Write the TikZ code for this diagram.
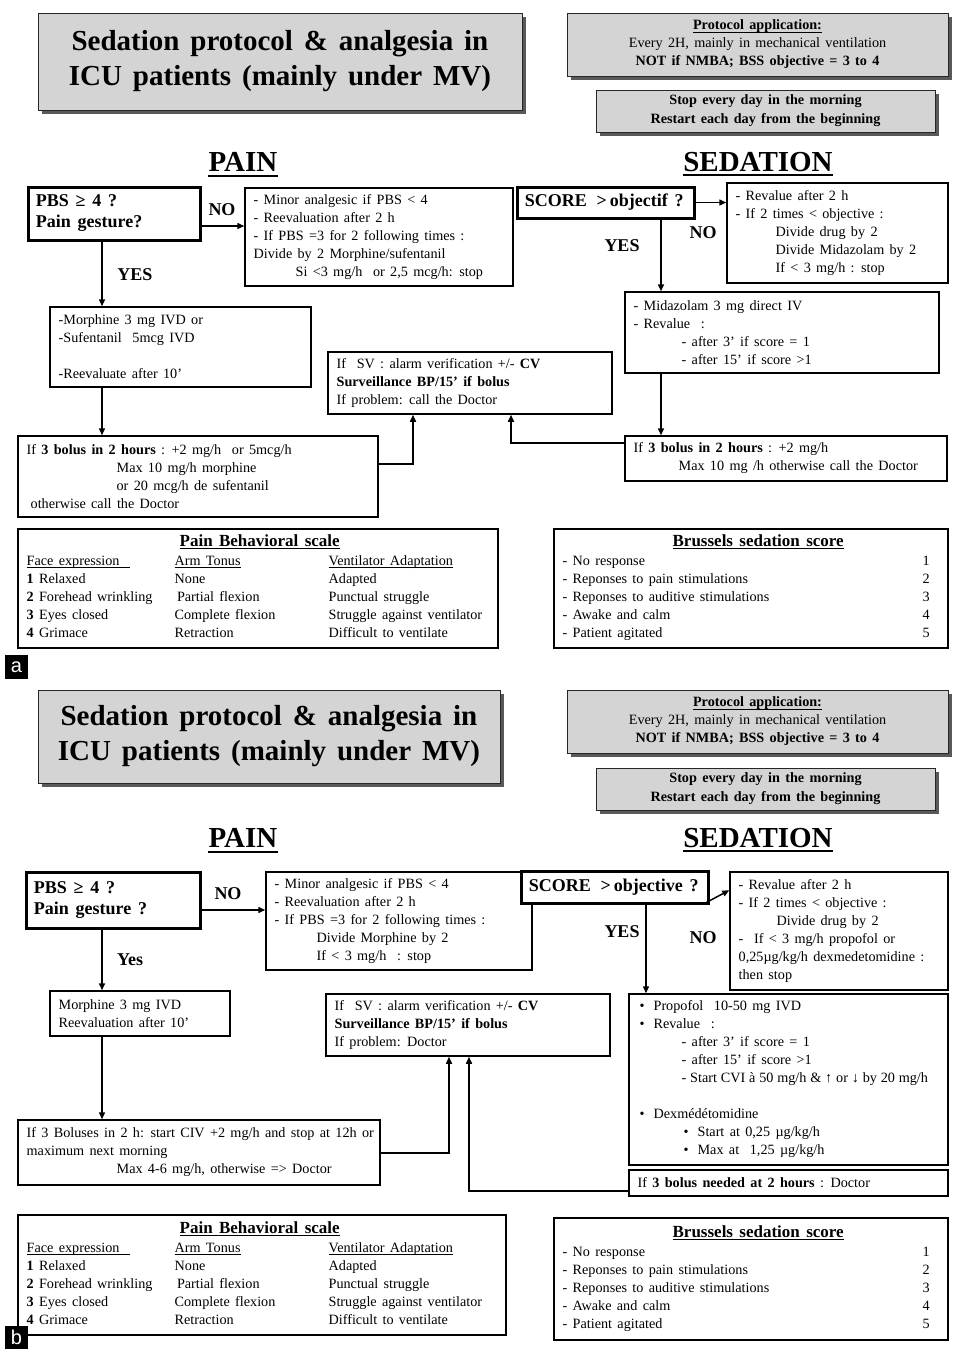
\documentclass[tikz,border=0pt]{standalone}
\usepackage{fontspec}
\setmainfont{Liberation Serif}[WordSpace=1.5]
\newfontfamily\lblfont{Liberation Sans}
\usetikzlibrary{arrows.meta,shadows}
\newcommand\myfs{\fontsize{7.1}{9}\selectfont}
\newcommand\myul[1]{\leavevmode\setbox0\hbox{#1}\rlap{\rule[-1.3pt]{\wd0}{0.45pt}}\box0}
\newcommand\mybox[8]{%
  \node[#1,minimum width=#6,minimum height=#7] (#3) at (#4,#5) {};
  \node[tx,#2] (#3t) at ([xshift=4.5pt]#3.west) {#8};
}
\tikzset{
  bx/.style={draw, line width=0.75pt, fill=white, inner sep=0pt},
  bxthick/.style={draw, line width=1.5pt, fill=white, inner sep=0pt},
  tx/.style={inner sep=0pt, align=left, font=\myfs, anchor=west},
  tt/.style={inner sep=0pt, font=\myfs, anchor=west},
  bold9/.style={font=\fontsize{9}{10.5}\selectfont\bfseries},
  gbox/.style={draw=black!85, line width=0.5pt, fill=black!17, inner sep=0pt, align=center,
     drop shadow={shadow xshift=2.2pt, shadow yshift=-2.2pt, fill=black!65, opacity=1}},
  lbl/.style={font=\fontsize{9}{10}\selectfont\bfseries, inner sep=0pt},
  head/.style={font=\fontsize{14.5}{16}\selectfont\bfseries, inner sep=0pt},
  arr/.style={line width=0.75pt, -{Triangle[length=3.5pt,width=3pt]}},
  ulline/.style={line width=1pt},
  tag/.style={fill=black, text=white, font=\lblfont\fontsize{10}{10}\selectfont, minimum width=11.5pt, minimum height=12pt, inner sep=0pt},
}
\newcommand\painscale[1]{%
\begin{tabular}{@{}p{74pt}@{}p{77pt}@{}l@{}}
\multicolumn{3}{@{}l@{}}{\hspace*{#1}\fontsize{8.5}{9}\selectfont\bfseries\myul{Pain Behavioral scale}}\\[0.5pt]
\myul{Face expression\ \ } & \myul{Arm Tonus} & \myul{Ventilator Adaptation}\\
\textbf{1} Relaxed & None & Adapted\\
\textbf{2} Forehead wrinkling & \,Partial flexion & Punctual struggle\\
\textbf{3} Eyes closed & Complete flexion & Struggle against ventilator\\
\textbf{4} Grimace & Retraction & Difficult to ventilate
\end{tabular}}
\newcommand\bssscale{%
\begin{tabular}{@{}p{180pt}@{}l@{}}
\multicolumn{2}{@{}l@{}}{\hspace*{55pt}\fontsize{8.5}{9}\selectfont\bfseries\myul{Brussels sedation score}}\\[0.5pt]
- No response & 1\\
- Reponses to pain stimulations & 2\\
- Reponses to auditive stimulations & 3\\
- Awake and calm & 4\\
- Patient agitated & 5
\end{tabular}}
\begin{document}
\begin{tikzpicture}[x=0.5pt,y=-0.5pt]
\useasboundingbox (0,0) rectangle (953,1349);
\fill[white] (0,0) rectangle (953,1349);

% ================= PANEL A =================
\node[gbox, minimum width=242pt, minimum height=48.5pt, font=\fontsize{14.5}{17.5}\selectfont\bfseries] (titleA) at (280,61.5) {Sedation protocol \& analgesia in\\ICU patients (mainly under MV)};
\node[gbox, minimum width=190.5pt, minimum height=31.5pt, font=\myfs] (protoA) at (757.5,44.5) {\textbf{\myul{Protocol application:}}\\Every 2H, mainly in mechanical ventilation\\\textbf{NOT if NMBA; BSS objective = 3 to 4}};
\node[gbox, minimum width=169.5pt, minimum height=21pt, font=\fontsize{7.1}{9.5}\selectfont\bfseries] (stopA) at (765.5,111) {Stop every day in the morning\\Restart each day from the beginning};

\node[head] (painA) at (243,162) {PAIN};
\draw[ulline] ([yshift=-2pt]painA.base west) -- ([yshift=-2pt]painA.base east);
\node[head] (sedA) at (758,162) {SEDATION};
\draw[ulline] ([yshift=-2pt]sedA.base west) -- ([yshift=-2pt]sedA.base east);

\mybox{bxthick}{bold9}{pbsA}{114}{213.5}{86pt}{26.5pt}{PBS ≥ 4 ?\\Pain gesture?}
\node[lbl] (noA1) at (222,210) {NO};
\mybox{bx}{}{minorA}{379}{237}{134pt}{49pt}{- Minor analgesic if PBS < 4\\- Reevaluation after 2 h\\- If PBS =3 for 2 following times :\\Divide by 2 Morphine/sufentanil\\\hspace*{21pt}Si <3 mg/h \ or 2,5 mcg/h: stop}
\node[lbl] (yesA1) at (135,275) {YES};
\mybox{bx}{}{morphA}{180.5}{347}{130.5pt}{40pt}{-Morphine 3 mg IVD or\\-Sufentanil \ 5mcg IVD\\[9pt]-Reevaluate after 10’}
\mybox{bx}{}{bolusPA}{198}{476.5}{180pt}{40.5pt}{If \textbf{3 bolus in 2 hours} : +2 mg/h \ or 5mcg/h\\\hspace*{45pt}Max 10 mg/h morphine\\\hspace*{45pt}or 20 mcg/h de sufentanil\\\hspace*{2pt}otherwise call the Doctor}
\mybox{bx}{}{survA}{470}{383}{142pt}{31pt}{If \ SV : alarm verification +/- \textbf{CV}\\\textbf{Surveillance BP/15’ if bolus}\\If problem: call the Doctor}

\mybox{bxthick}{bold9}{scoreA}{605.5}{202.5}{88.5pt}{15.5pt}{SCORE \,>\,objectif ?}
\mybox{bx}{}{revalA}{837.5}{233}{110.5pt}{50pt}{- Revalue after 2 h\\- If 2 times < objective :\\\hspace*{20pt}Divide drug by 2\\\hspace*{20pt}Divide Midazolam by 2\\\hspace*{20pt}If < 3 mg/h : stop}
\node[lbl] (noA2) at (703,233) {NO};
\node[lbl] (yesA2) at (622,246) {YES};
\mybox{bx}{}{midaA}{782}{332.5}{157pt}{40.5pt}{- Midazolam 3 mg direct IV\\- Revalue \ :\\\hspace*{24pt}- after 3’ if score = 1\\\hspace*{24pt}- after 15’ if score >1}
\mybox{bx}{}{bolusSA}{786}{458.5}{161pt}{22.5pt}{If \textbf{3 bolus in 2 hours} : +2 mg/h\\\hspace*{22.5pt}Max 10 mg /h otherwise call the Doctor}

\mybox{bx}{tt}{scalePA}{258}{588.5}{240pt}{59.5pt}{\painscale{76.5pt}}
\mybox{bx}{tt}{bssA}{751}{588.5}{197pt}{59.5pt}{\bssscale}
\node[tag] (tagA) at (16.5,667) {a};

% connectors A
\coordinate (pa) at ([yshift=-6.25pt]pbsA.east);
\draw[arr] (pa) -- (pa -| minorA.west);
\coordinate (xa) at (102,0);
\draw[arr] (xa |- pbsA.south) -- (xa |- morphA.north);
\draw[arr] (xa |- morphA.south) -- (xa |- bolusPA.north);
\coordinate (ja) at (413,464);
\draw[arr] (ja -| bolusPA.east) -| (ja |- survA.south);
\coordinate (jb) at (511,443);
\draw[arr] (jb -| bolusSA.west) -| (jb |- survA.south);
\draw[arr] (scoreA.east) -- (scoreA.east -| revalA.west);
\coordinate (xs) at (661,0);
\draw[arr] (xs |- scoreA.south) -- (xs |- midaA.north);
\draw[arr] (xs |- midaA.south) -- (xs |- bolusSA.north);

% ================= PANEL B =================
\node[gbox, minimum width=231pt, minimum height=46.5pt, font=\fontsize{14.5}{17.5}\selectfont\bfseries] (titleB) at (269,736.5) {Sedation protocol \& analgesia in\\ICU patients (mainly under MV)};
\node[gbox, minimum width=190.5pt, minimum height=31.5pt, font=\myfs] (protoB) at (757.5,721.5) {\textbf{\myul{Protocol application:}}\\Every 2H, mainly in mechanical ventilation\\\textbf{NOT if NMBA; BSS objective = 3 to 4}};
\node[gbox, minimum width=169.5pt, minimum height=21pt, font=\fontsize{7.1}{9.5}\selectfont\bfseries] (stopB) at (765.5,789) {Stop every day in the morning\\Restart each day from the beginning};

\node[head] (painB) at (243,838) {PAIN};
\draw[ulline] ([yshift=-2pt]painB.base west) -- ([yshift=-2pt]painB.base east);
\node[head] (sedB) at (758,838) {SEDATION};
\draw[ulline] ([yshift=-2pt]sedB.base west) -- ([yshift=-2pt]sedB.base east);

\mybox{bxthick}{bold9}{pbsB}{113}{900}{87pt}{28pt}{PBS ≥ 4 ?\\Pain gesture ?}
\node[lbl] (noB1) at (228,894) {NO};
\mybox{bx}{}{minorB}{399}{921}{133pt}{49pt}{- Minor analgesic if PBS < 4\\- Reevaluation after 2 h\\- If PBS =3 for 2 following times :\\\hspace*{21pt}Divide Morphine by 2\\\hspace*{21pt}If < 3 mg/h \ : stop}
\node[lbl] (yesB1) at (130,960) {Yes};
\mybox{bx}{}{morphB}{140}{1013.5}{90pt}{22.5pt}{Morphine 3 mg IVD\\Reevaluation after 10’}
\mybox{bx}{}{bolusPB}{199}{1152.5}{181pt}{32.5pt}{If 3 Boluses in 2 h: start CIV +2 mg/h and stop at 12h or\\maximum next morning\\\hspace*{45pt}Max 4-6 mg/h, otherwise => Doctor}
\mybox{bx}{}{survB}{468}{1025}{142pt}{31pt}{If \ SV : alarm verification +/- \textbf{CV}\\\textbf{Surveillance BP/15’ if bolus}\\If problem: Doctor}

\mybox{bxthick}{bold9}{scoreB}{614.5}{887}{93.5pt}{16pt}{SCORE \,>\,objective ?}
\mybox{bx}{}{revalB}{839}{931}{109pt}{59pt}{- Revalue after 2 h\\- If 2 times < objective :\\\hspace*{19pt}Divide drug by 2\\- \ If < 3 mg/h propofol or\\0,25µg/kg/h dexmedetomidine :\\then stop}
\node[lbl] (yesB2) at (622,932) {YES};
\node[lbl] (noB2) at (703,938) {NO};
\mybox{bx}{}{propB}{788.5}{1079.5}{159.5pt}{85.5pt}{\hspace*{1pt}\textbullet\hspace{4.5pt}Propofol \ 10-50 mg IVD\\\hspace*{1pt}\textbullet\hspace{4.5pt}Revalue \ :\\\hspace*{22pt}- after 3’ if score = 1\\\hspace*{22pt}- after 15’ if score >1\\\hspace*{22pt}{\spaceskip=0.27em plus 0.1em\relax - Start CVI à 50 mg/h \& ↑ or ↓ by 20 mg/h}\\[9pt]\hspace*{1pt}\textbullet\hspace{4.5pt}Dexmédétomidine\\\hspace*{23pt}\textbullet\hspace{4.5pt}Start at 0,25 µg/kg/h\\\hspace*{23pt}\textbullet\hspace{4.5pt}Max at \ 1,25 µg/kg/h}
\mybox{bx}{}{bolusNB}{788.5}{1183}{159.5pt}{13pt}{If \textbf{3 bolus needed at 2 hours} : Doctor}

\mybox{bx}{tt}{scalePB}{262}{1275}{244pt}{60pt}{\painscale{76.5pt}}
\mybox{bx}{tt}{bssB}{751}{1279}{197pt}{61pt}{\bssscale}
\node[tag] (tagB) at (16.5,1337.5) {b};

% connectors B
\coordinate (pb) at ([yshift=-5pt]pbsB.east);
\draw[arr] (pb) -- (pb -| minorB.west);
\coordinate (xb) at (102,0);
\draw[arr] (xb |- pbsB.south) -- (xb |- morphB.north);
\draw[arr] (xb |- morphB.south) -- (xb |- bolusPB.north);
\coordinate (jc) at (449,1153);
\draw[arr] (jc -| bolusPB.east) -| (jc |- survB.south);
\coordinate (jd) at (469,1191);
\draw[arr] (jd -| bolusNB.west) -| (jd |- survB.south);
\draw[arr] ([xshift=-3.5pt]scoreB.south east) -- ([yshift=-9.5pt]revalB.north west);
\coordinate (xt) at (646,0);
\draw[arr] (xt |- scoreB.south) -- (xt |- propB.north);
\end{tikzpicture}
\end{document}
